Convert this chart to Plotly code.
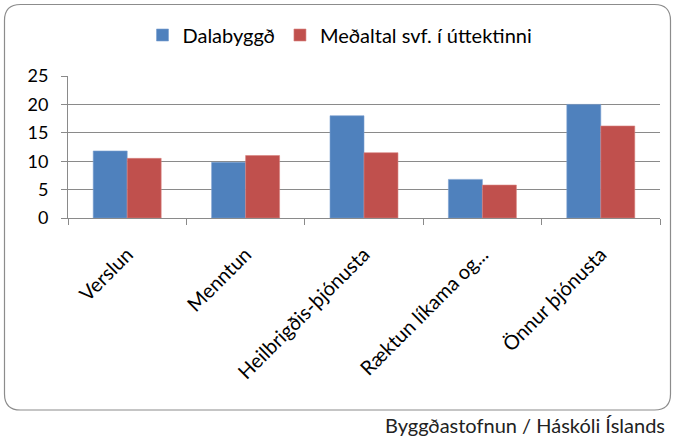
import plotly.graph_objects as go

categories = ["Verslun", "Menntun", "Heilbrigðis-þjónusta", "Ræktun líkama og...", "Önnur þjónusta"]
dalabyggd = [11.8, 9.8, 18.0, 6.8, 20.0]
medaltal = [10.5, 11.0, 11.5, 5.8, 16.2]
series_names = ["Dalabyggð", "Meðaltal svf. í úttektinni"]
y_ticks = [0, 5, 10, 15, 20, 25]
source_text = "Byggðastofnun / Háskóli Íslands"

W, H = 675, 436
L, R, T, B = 68, 660, 76, 218  # plot area in pixels

def px(x):
    return (x - L) / (R - L)

def py(y):
    return (B - y) / (B - T)

FONT = "Lato, Calibri, 'Open Sans', sans-serif"
GRID = "#8a8a8a"

fig = go.Figure()
fig.add_trace(go.Bar(x=categories, y=dalabyggd, name=series_names[0],
                     marker=dict(color="#4F81BD", line=dict(color="#7aa0d0", width=0.6))))
fig.add_trace(go.Bar(x=categories, y=medaltal, name=series_names[1],
                     marker=dict(color="#C0504D", line=dict(color="#d88380", width=0.6))))

# rounded border
x0, x1, y0, y1, r = 4.5, 670.5, 4.5, 410, 16
path = (f"M {px(x0+r)},{py(y0)} L {px(x1-r)},{py(y0)} Q {px(x1)},{py(y0)} {px(x1)},{py(y0+r)} "
        f"L {px(x1)},{py(y1-r)} Q {px(x1)},{py(y1)} {px(x1-r)},{py(y1)} "
        f"L {px(x0+r)},{py(y1)} Q {px(x0)},{py(y1)} {px(x0)},{py(y1-r)} "
        f"L {px(x0)},{py(y0+r)} Q {px(x0)},{py(y0)} {px(x0+r)},{py(y0)} Z")
fig.add_shape(type="path", path=path, xref="paper", yref="paper",
              line=dict(color="#8c8c8c", width=1.2), layer="below")

fig.add_annotation(text=source_text, xref="paper", yref="paper",
                   x=px(667), y=py(425), xanchor="right", yanchor="middle",
                   showarrow=False, font=dict(family=FONT, size=20, color="#222"))

fig.update_layout(
    width=W, height=H,
    margin=dict(l=L, r=W - R, t=T, b=H - B, pad=0),
    paper_bgcolor="white", plot_bgcolor="white",
    barmode="group", bargap=0.426, bargroupgap=0,
    font=dict(family=FONT, size=16, color="#000"),
    showlegend=True,
    legend=dict(orientation="h", xref="paper", x=px(340), xanchor="center",
                y=py(35), yanchor="middle", font=dict(family=FONT, size=20),
                traceorder="normal", bgcolor="rgba(0,0,0,0)"),
    xaxis=dict(showline=True, linecolor=GRID, linewidth=1, ticks="outside",
               tickson="boundaries", ticklen=6, tickcolor=GRID, tickangle=-45,
               tickfont=dict(family=FONT, size=20), showgrid=False, ticklabelstandoff=16),
    yaxis=dict(range=[0, 25], tickvals=y_ticks, showline=True, linecolor=GRID, linewidth=1,
               ticks="outside", ticklen=6, tickcolor=GRID, showgrid=True, gridcolor=GRID,
               gridwidth=1, zeroline=False, tickfont=dict(family=FONT, size=18), ticklabelstandoff=9),
)

fig.write_html("out.html", config={"displayModeBar": False},
               post_script="document.body.style.margin='0';")
